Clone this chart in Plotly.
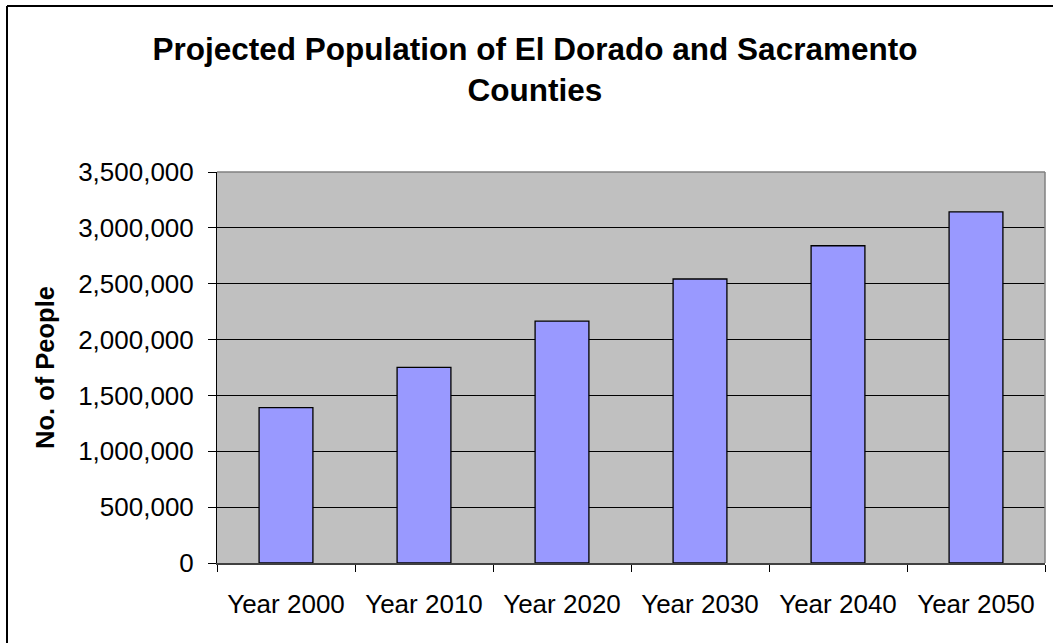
import plotly.graph_objects as go

# Projected population by decade
years = ["Year 2000", "Year 2010", "Year 2020", "Year 2030", "Year 2040", "Year 2050"]
population = [1390000, 1752000, 2165000, 2542000, 2840000, 3143000]
y_ticks = [0, 500000, 1000000, 1500000, 2000000, 2500000, 3000000, 3500000]
y_tick_text = ["0", "500,000", "1,000,000", "1,500,000", "2,000,000",
               "2,500,000", "3,000,000", "3,500,000"]

W, H = 1053, 643
ML, MR, MT, MB = 217, 8, 172, 80
PW, PH = W - ML - MR, H - MT - MB


def px_x(p):
    return (p - ML) / PW


def px_y(p):
    return (H - MB - p) / PH


fig = go.Figure(
    go.Bar(
        x=years,
        y=population,
        marker=dict(color="#9999FF", line=dict(color="#000000", width=1.3)),
        width=0.39,
    )
)

fig.update_layout(
    width=W,
    height=H,
    margin=dict(l=ML, r=MR, t=MT, b=MB),
    paper_bgcolor="#FFFFFF",
    plot_bgcolor="#C0C0C0",
    showlegend=False,
    font=dict(family="Liberation Sans, Arial, sans-serif", color="#000000"),
    title=dict(
        text="<b>Projected Population of El Dorado and Sacramento<br>Counties</b>",
        x=px_x(535),
        xref="paper",
        xanchor="center",
        y=1 - 60 / H,
        yanchor="middle",
        font=dict(size=31.5, color="#000000"),
    ),
)

fig.update_xaxes(
    type="category",
    tickson="boundaries",
    ticks="outside",
    ticklen=7,
    tickcolor="#000000",
    tickwidth=1,
    tickfont=dict(size=26),
    ticklabelstandoff=17,
    showline=True,
    linecolor="#404040",
    linewidth=1.5,
    showgrid=False,
    zeroline=False,
)

fig.update_yaxes(
    range=[0, 3500000],
    tickvals=y_ticks,
    ticktext=y_tick_text,
    ticks="outside",
    ticklen=8,
    tickcolor="#000000",
    tickwidth=1,
    tickfont=dict(size=26),
    ticklabelstandoff=9,
    showline=True,
    linecolor="#000000",
    linewidth=1,
    showgrid=True,
    gridcolor="#000000",
    gridwidth=1,
    zeroline=False,
    title=dict(text="<b>No. of People</b>", font=dict(size=25.5), standoff=16),
)

# Plot area frame (top and right edges)
fig.add_shape(type="line", xref="paper", yref="paper", x0=0, x1=1, y0=1, y1=1,
              line=dict(color="#808080", width=1.5))
fig.add_shape(type="line", xref="paper", yref="paper", x0=1, x1=1, y0=0, y1=1,
              line=dict(color="#808080", width=1.5))

# Outer chart border
fig.add_shape(type="line", xref="paper", yref="paper",
              x0=px_x(7), x1=px_x(W + 5), y0=px_y(6), y1=px_y(6),
              line=dict(color="#000000", width=2))
fig.add_shape(type="line", xref="paper", yref="paper",
              x0=px_x(7), x1=px_x(7), y0=px_y(6), y1=px_y(H + 5),
              line=dict(color="#000000", width=2))

fig.write_html("out.html")
